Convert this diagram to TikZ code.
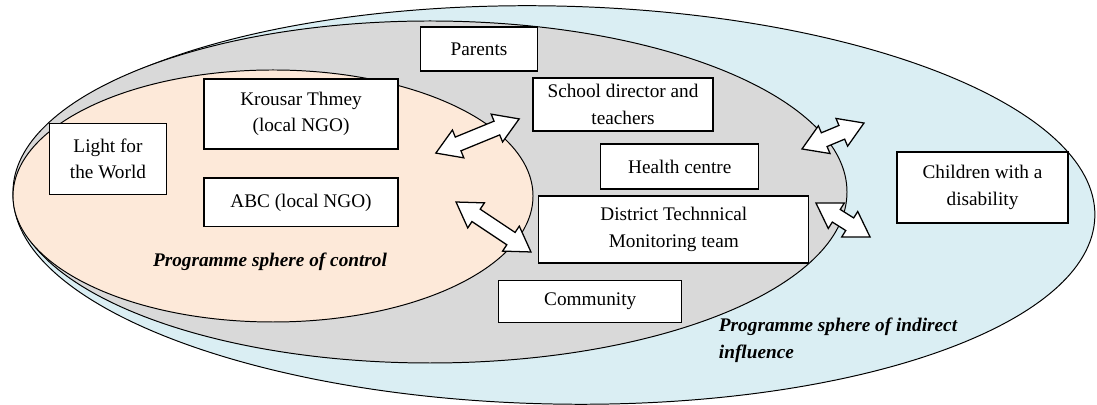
\documentclass[tikz,border=0pt]{standalone}
\usepackage{fontspec}
\setmainfont{Liberation Serif}
\usetikzlibrary{shapes.arrows}
\definecolor{aqua}{HTML}{DAEEF3}
\definecolor{lightgrey}{HTML}{D9D9D9}
\definecolor{peach}{HTML}{FDE9D9}
\newcommand{\boxfont}{\fontsize{13.7}{19}\selectfont}
\begin{document}
\begin{tikzpicture}[x=0.025cm, y=0.025cm]

% definitions
\tikzstyle{sphere} = [draw=black, line width=0.7pt]

\tikzstyle{actor} = [rectangle, draw=black, fill=white, line width=0.9pt, inner sep=2pt, text centered, align=center, font=\boxfont]

\tikzstyle{twoway} = [double arrow, draw=black, fill=white, line width=0.9pt, inner sep=0.17cm, minimum width=0.72cm, double arrow head extend=0.19cm, double arrow tip angle=64]

\tikzstyle{caption} = [font=\boxfont\bfseries\itshape]

\useasboundingbox (0,0) rectangle (1097,405);

% the spheres
\draw [sphere, fill=aqua] (554,200) ellipse [x radius=541, y radius=199, rotate=-1.2];
\draw [sphere, fill=lightgrey] (430,213) ellipse [x radius=417, y radius=171];
\draw [sphere, fill=peach] (273,209) ellipse [x radius=260, y radius=126];

% the graph
\node (kt) [actor, minimum width=4.85cm, minimum height=1.75cm] at (301,291) {Krousar Thmey\\(local NGO)};

\node (abc) [actor, minimum width=4.85cm, minimum height=1.22cm, below of=kt, yshift=-1.21cm] {ABC (local NGO)};

\node (lfw) [actor, minimum width=2.92cm, minimum height=1.77cm] at (108,246) {Light for\\the World};

\node (par) [actor, minimum width=2.92cm, minimum height=1.1cm] at (479,356) {Parents};

\node (sch) [actor, minimum width=4.5cm, minimum height=1.32cm] at (623,300.5) {School director and\\teachers};

\node (hc) [actor, minimum width=3.95cm, minimum height=1.12cm, below of=sch, xshift=1.42cm, yshift=-0.55cm] {Health centre};

\node (dtm) [actor, minimum width=6.75cm, minimum height=1.67cm, below of=hc, xshift=-0.15cm, yshift=-0.575cm] {District Technnical\\Monitoring team};

\node (com) [actor, minimum width=4.57cm, minimum height=1.05cm, below of=dtm, xshift=-2.09cm, yshift=-0.79cm] {Community};

\node (cwd) [actor, minimum width=4.27cm, minimum height=1.77cm] at (982.5,217.5) {Children with a\\disability};

\node (ctrl) [caption] at (270,143) {Programme sphere of control};

\node (infl) [caption, align=left, anchor=west] at (714,65) {Programme sphere of indirect\\influence};

\node (a1) [twoway, minimum height=2.25cm, rotate=22.3] at (477.5,269) {};
\node (a2) [twoway, minimum height=2.25cm, rotate=-33.7] at (493.5,178) {};
\node (a3) [twoway, minimum height=1.68cm, rotate=22.7] at (833,269) {};
\node (a4) [twoway, minimum height=1.6cm, rotate=-32.2] at (843,185) {};

\end{tikzpicture}
\end{document}
